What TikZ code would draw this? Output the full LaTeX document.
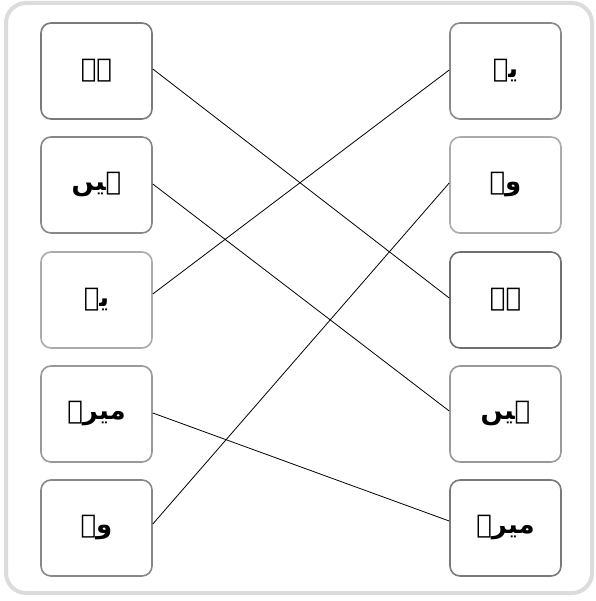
\documentclass[tikz,border=0pt]{standalone}
\usepackage{fontspec}
\newfontfamily\urdufont[Script=Arabic]{DejaVu Sans}
\TeXXeTstate=1
\definecolor{framegray}{HTML}{DCDCDC}
\definecolor{gA}{HTML}{707070}
\definecolor{gB}{HTML}{7A7A7A}
\definecolor{gC}{HTML}{888888}
\definecolor{gD}{HTML}{999999}
\definecolor{gE}{HTML}{ABABAB}
\tikzset{
  wordbox/.style={draw, line width=1.6pt, rounded corners=10pt, fill=white,
    minimum width=111pt, minimum height=96pt, inner sep=0pt,
    font=\urdufont\bfseries\fontsize{26}{30}\selectfont},
  link/.style={draw=black, line width=0.8pt},
}
\newcommand{\ur}[1]{\beginR #1\endR}
\begin{document}
\begin{tikzpicture}[x=1pt,y=-1pt]
\useasboundingbox (0,0) rectangle (595,601);
\draw[framegray, line width=4pt, rounded corners=20pt, fill=white] (6,3) rectangle (592,593);
% left column
\node[wordbox, draw=gB] (L1) at (96.5,71)  {\ur{ہے}};
\node[wordbox, draw=gC] (L2) at (96.5,185) {\ur{ہیں}};
\node[wordbox, draw=gE] (L3) at (96.5,300) {\ur{یہ}};
\node[wordbox, draw=gD] (L4) at (96.5,414) {\ur{میرے}};
\node[wordbox, draw=gC] (L5) at (96.5,528) {\ur{وہ}};
% right column
\node[wordbox, draw=gC] (R1) at (505.5,71)  {\ur{یہ}};
\node[wordbox, draw=gE] (R2) at (505.5,185) {\ur{وہ}};
\node[wordbox, draw=gA] (R3) at (505.5,300) {\ur{ہے}};
\node[wordbox, draw=gD] (R4) at (505.5,414) {\ur{ہیں}};
\node[wordbox, draw=gB] (R5) at (505.5,528) {\ur{میرے}};
% connectors
\draw[link] ([yshift=2pt]L1.east) -- ([yshift=2pt]R3.west);
\draw[link] ([yshift=1pt]L2.east) -- ([yshift=3pt]R4.west);
\draw[link] ([yshift=6pt]L3.east) -- ([yshift=1pt]R1.west);
\draw[link] ([yshift=1pt]L4.east) -- ([yshift=7pt]R5.west);
\draw[link] ([yshift=4pt]L5.east) -- ([yshift=2pt]R2.west);
\end{tikzpicture}
\end{document}
